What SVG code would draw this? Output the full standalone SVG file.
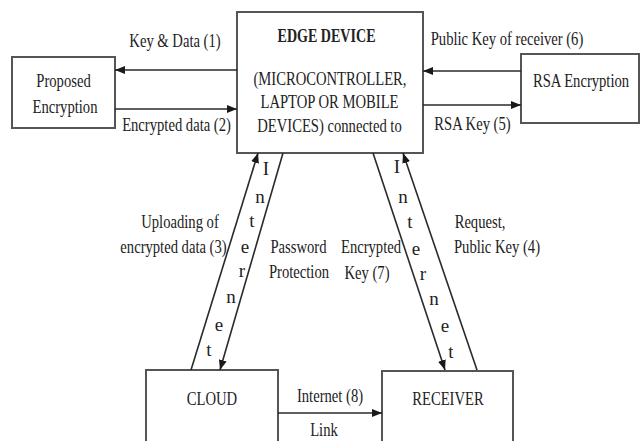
<svg xmlns="http://www.w3.org/2000/svg" width="640" height="441" viewBox="0 0 640 441">
<style>
text{font-family:"Liberation Serif","Times New Roman",serif;font-size:19px;fill:#222;text-anchor:middle}
.b{font-weight:bold}
.box{fill:#fff;stroke:#555;stroke-width:2}
.ln{stroke:#2a2a2a;stroke-width:1.6;fill:none}
</style>
<defs>
<marker id="ah" markerUnits="userSpaceOnUse" markerWidth="10" markerHeight="8" refX="10" refY="4" orient="auto">
<path d="M0,0 L10,4 L0,8 z" fill="#1a1a1a"/>
</marker>
</defs>
<rect width="640" height="441" fill="#fff"/>
<g id="edge">
<rect class="box" x="237" y="12" width="186" height="141"/>
<text class="b" transform="translate(326.5,42) scale(0.74,1)">EDGE DEVICE</text>
<text transform="translate(330,85) scale(0.77,1)">(MICROCONTROLLER,</text>
<text transform="translate(329.5,108) scale(0.77,1)">LAPTOP OR MOBILE</text>
<text transform="translate(329.5,132) scale(0.77,1)">DEVICES) connected to</text>
</g>
<g id="proposed">
<rect class="box" x="12" y="57" width="103" height="71"/>
<text transform="translate(63.5,87) scale(0.77,1)">Proposed</text>
<text transform="translate(65,113) scale(0.77,1)">Encryption</text>
</g>
<g id="rsa">
<rect class="box" x="521" y="54" width="118" height="69"/>
<text transform="translate(581,87) scale(0.77,1)">RSA Encryption</text>
</g>
<g id="cloud">
<rect class="box" x="146" y="370" width="132" height="80"/>
<text transform="translate(212,405) scale(0.77,1)">CLOUD</text>
</g>
<g id="receiver">
<rect class="box" x="382" y="371" width="131" height="80"/>
<text transform="translate(448,405) scale(0.77,1)">RECEIVER</text>
</g>
<g id="connectors">
<line class="ln" x1="237" y1="70" x2="115" y2="70" marker-end="url(#ah)"/>
<line class="ln" x1="115" y1="109" x2="237" y2="109" marker-end="url(#ah)"/>
<line class="ln" x1="521" y1="71" x2="423" y2="71" marker-end="url(#ah)"/>
<line class="ln" x1="423" y1="105" x2="521" y2="105" marker-end="url(#ah)"/>
<line class="ln" x1="191" y1="370" x2="258" y2="153" marker-end="url(#ah)"/>
<line class="ln" x1="283" y1="153" x2="220" y2="370" marker-end="url(#ah)"/>
<line class="ln" x1="373" y1="153" x2="445" y2="370" marker-end="url(#ah)"/>
<line class="ln" x1="477" y1="370" x2="403" y2="153" marker-end="url(#ah)"/>
<line class="ln" x1="278" y1="413" x2="382" y2="413" marker-end="url(#ah)"/>
<text transform="translate(175,47) scale(0.77,1)">Key &amp; Data (1)</text>
<text transform="translate(176.5,131) scale(0.77,1)">Encrypted data (2)</text>
<text transform="translate(507,45) scale(0.77,1)">Public Key of receiver (6)</text>
<text transform="translate(472.5,130) scale(0.77,1)">RSA Key (5)</text>
<text transform="translate(180,228) scale(0.77,1)">Uploading of</text>
<text transform="translate(173.5,253) scale(0.77,1)">encrypted data (3)</text>
<text transform="translate(298.5,253) scale(0.77,1)">Password</text>
<text transform="translate(299,278) scale(0.77,1)">Protection</text>
<text transform="translate(371,253) scale(0.77,1)">Encrypted</text>
<text transform="translate(367,279) scale(0.77,1)">Key (7)</text>
<text transform="translate(480,228) scale(0.77,1)">Request,</text>
<text transform="translate(497,253) scale(0.77,1)">Public Key (4)</text>
<text transform="translate(330,402) scale(0.77,1)">Internet (8)</text>
<text transform="translate(324,436) scale(0.77,1)">Link</text>
<text x="266" y="175">I</text>
<text x="260" y="203">n</text>
<text x="252" y="227">t</text>
<text x="245" y="253">e</text>
<text x="242" y="277">r</text>
<text x="231" y="303">n</text>
<text x="219" y="331">e</text>
<text x="209" y="356">t</text>
<text x="397" y="173">I</text>
<text x="403" y="203">n</text>
<text x="410" y="228">t</text>
<text x="416" y="255">e</text>
<text x="423" y="280">r</text>
<text x="434" y="305">n</text>
<text x="445" y="332">e</text>
<text x="451" y="358">t</text>
</g>
</svg>
